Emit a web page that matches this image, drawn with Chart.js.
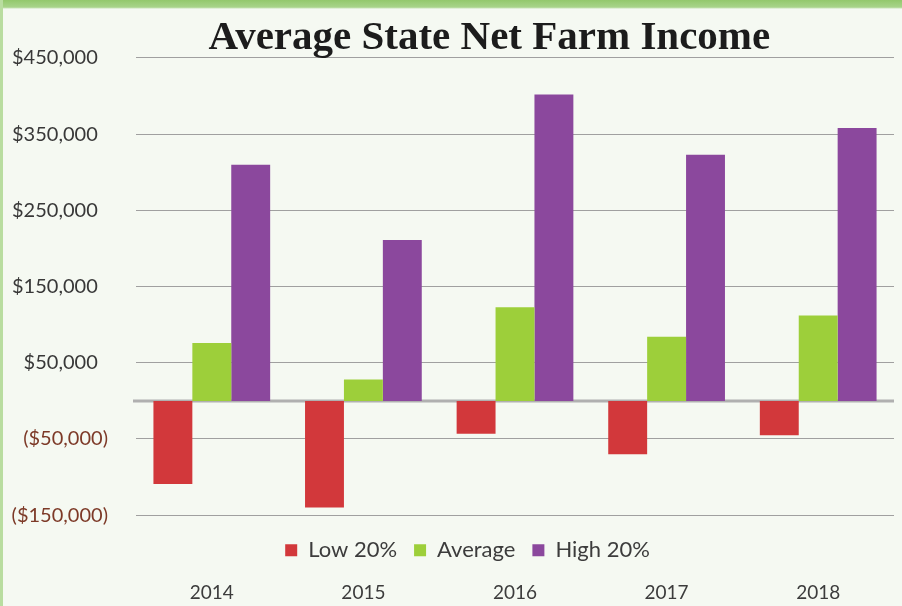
<!DOCTYPE html>
<html>
<head>
<meta charset="utf-8">
<script src="https://cdn.jsdelivr.net/npm/chart.js@4.4.0/dist/chart.umd.min.js"></script>
<style>
html,body{margin:0;padding:0;background:#f4f8ef;}
#wrap{width:902px;height:606px;position:relative;}
canvas{display:block;}
</style>
</head>
<body>
<div id="wrap"><canvas id="c" width="902" height="606"></canvas></div>
<script>
const chartTitle = 'Average State Net Farm Income';
const categories = ['2014', '2015', '2016', '2017', '2018'];
const seriesNames = ['Low 20%', 'Average', 'High 20%'];
const low20 = [-109000, -140000, -43000, -70000, -45000];
const average = [76000, 28000, 123000, 84000, 112000];
const high20 = [310000, 211000, 402000, 323000, 358000];
const yTickValues = [-150000, -50000, 50000, 150000, 250000, 350000, 450000];
const yTickLabels = ['($150,000)', '($50,000)', '$50,000  ', '$150,000  ', '$250,000  ', '$350,000  ', '$450,000  '];

const bgPlugin = {
  id: 'bg',
  beforeDraw(chart) {
    const ctx = chart.ctx;
    ctx.save();
    ctx.fillStyle = '#f5f9f2';
    ctx.fillRect(0, 0, chart.width, chart.height);
    const g = ctx.createLinearGradient(0, 0, 0, 9);
    g.addColorStop(0, '#93c86c');
    g.addColorStop(0.8, '#a8d48a');
    g.addColorStop(1, '#f5f9f2');
    ctx.fillStyle = g;
    ctx.fillRect(0, 0, chart.width, 9);
    ctx.fillStyle = '#b9dda0';
    ctx.fillRect(0, 0, 3, chart.height);
    ctx.restore();
  }
};

const zeroLinePlugin = {
  id: 'zeroLine',
  beforeDatasetsDraw(chart) {
    const y = chart.scales.y.getPixelForValue(0);
    const a = chart.chartArea;
    const ctx = chart.ctx;
    ctx.save();
    ctx.strokeStyle = '#b0b0b0';
    ctx.lineWidth = 3;
    ctx.beginPath();
    ctx.moveTo(a.left - 3, y);
    ctx.lineTo(a.right, y);
    ctx.stroke();
    ctx.restore();
  }
};

// shift the legend slightly right, as in the original layout
const legendShiftPlugin = {
  id: 'legendShift',
  afterLayout(chart) {
    const lg = chart.legend;
    if (lg) { lg.left += 18; lg.right += 18; }
  }
};

new Chart(document.getElementById('c'), {
  type: 'bar',
  data: {
    labels: categories,
    datasets: [
      { label: seriesNames[0], data: low20, backgroundColor: '#d2383b', xAxisID: 'x' },
      { label: seriesNames[1], data: average, backgroundColor: '#9dcf3a', xAxisID: 'x' },
      { label: seriesNames[2], data: high20, backgroundColor: '#8b489d', xAxisID: 'x' }
    ]
  },
  options: {
    responsive: false,
    animation: false,
    events: [],
    layout: { padding: { left: 5, right: 8, top: 0, bottom: 0 } },
    datasets: { bar: { categoryPercentage: 0.77, barPercentage: 1.0, borderWidth: 0 } },
    scales: {
      y: {
        min: -150000,
        max: 450000,
        afterBuildTicks(scale) { scale.ticks = yTickValues.map(v => ({ value: v })); },
        afterFit(scale) { scale.width = 131; },
        grid: { color: '#a0a0a0', lineWidth: 1, drawTicks: false },
        border: { display: false },
        ticks: {
          padding: 28,
          font: { family: 'Lato', size: 20 },
          color: (c) => (c.tick && c.tick.value < 0) ? '#7d3a28' : '#383838',
          callback: (v) => yTickLabels[yTickValues.indexOf(v)]
        }
      },
      xs: {
        type: 'category',
        labels: categories,
        position: 'bottom',
        weight: 0,
        grid: { display: false },
        border: { display: false },
        ticks: { display: false },
        afterFit(scale) { scale.height = 7; }
      },
      x: {
        position: 'bottom',
        weight: 2,
        grid: { display: false },
        border: { display: false },
        ticks: { padding: 2, font: { family: 'Lato', size: 19 }, color: '#3c3c3c' }
      }
    },
    plugins: {
      title: {
        display: true,
        text: chartTitle + '     ',
        fullSize: false,
        color: '#1c1c1c',
        font: { family: 'Liberation Serif', size: 41, weight: 'bold', lineHeight: 0.95 },
        padding: { top: 19, bottom: 0 }
      },
      legend: {
        position: 'bottom',
        weight: 1,
        labels: {
          boxWidth: 12,
          boxHeight: 12,
          padding: 17,
          color: '#3c3c3c',
          font: { family: 'Lato', size: 22 }
        }
      },
      tooltip: { enabled: false }
    }
  },
  plugins: [bgPlugin, zeroLinePlugin, legendShiftPlugin]
});
</script>
</body>
</html>
